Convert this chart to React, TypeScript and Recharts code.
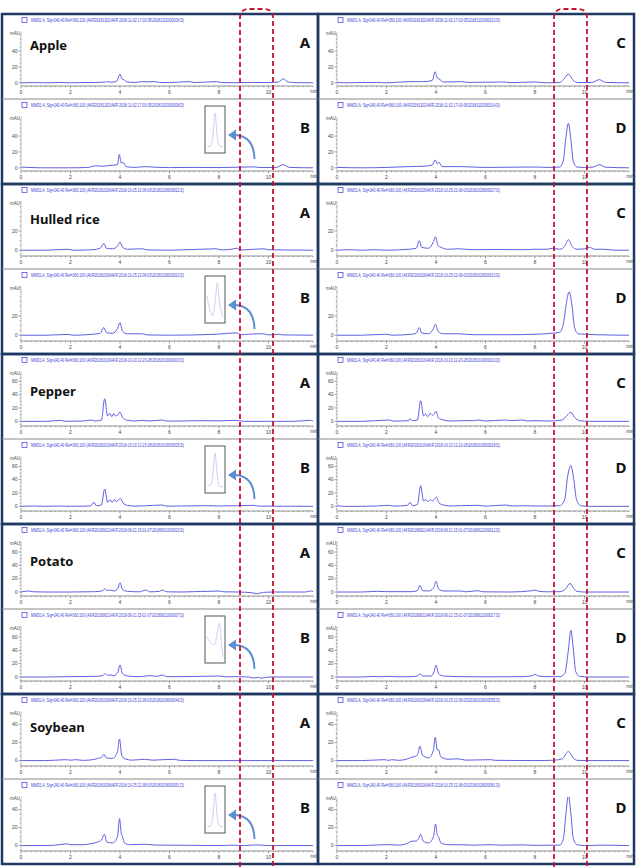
import { LineChart, Line, XAxis, YAxis } from "recharts";

type Pair = [number, number];

// ---- labels ----
const samples = ["Apple", "Hulled rice", "Pepper", "Potato", "Soybean"];
const panelLetters = ["A", "B", "C", "D"];

const runFolders = [
  "AKR20181102\\AKR 2018-11-02 17-03-05\\",
  "AKR20181026\\AKR 2018-10-25 22-38-03\\",
  "AKR20181010\\AKR 2018-10-10 12-23-28\\",
  "AKR20180621\\AKR 2018-06-21 15-01-07\\",
  "AKR20181026\\AKR 2018-10-25 22-38-03\\",
];
const runFiles = [
  ["20181102000006.D", "20181102000008.D", "20181102000013.D", "20181102000014.D"],
  ["20181026000022.D", "20181026000023.D", "20181026000027.D", "20181026000010.D"],
  ["20181010000003.D", "20181010000005.D", "20181010000010.D", "20181010000018.D"],
  ["20180621000003.D", "20180621000007.D", "20180621000012.D", "20180621000017.D"],
  ["20181026000046.D", "20181026000051.D", "20181026000055.D", "20181026000081.D"],
];

// ---- axes ----
const xTicks = [0, 2, 4, 6, 8, 10];
const xMax = 11.8;
const yTickSets = [[0, 20, 40], [0, 20], [0, 20, 40, 60], [0, 20, 40, 60], [0, 20, 40]];
const yDomains: [number, number][] = [[-4, 64], [-6, 50], [-7, 74], [-6, 75], [-6, 54]];

// ---- traces: [retention time (min), signal (mAU)] ----
const appleA: Pair[] = [[0,0],[0.5,0.3],[1,0],[1.5,0.4],[2,0],[2.5,0.3],[3,0.5],[3.4,1],[3.5,1.5],[3.6,0.8],[3.85,1.5],[3.95,8],[4.0,11],[4.08,5],[4.15,4],[4.3,1],[4.6,0.5],[4.9,1.5],[5.1,1.2],[5.4,1.5],[5.6,0.5],[6.0,0.3],[6.8,1.5],[7.0,0.3],[7.9,1.5],[8.1,0.3],[8.8,0.2],[9.4,0.5],[10.0,0.3],[10.4,1],[10.6,5],[10.8,1],[11.2,0.2],[11.8,0]];
const appleB: Pair[] = [[0,1],[0.3,0.5],[1,0],[2,0],[2.7,0.5],[3.0,2.5],[3.3,2],[3.6,3],[3.9,4],[3.97,17],[4.05,6],[4.12,7],[4.25,1.5],[4.6,0.5],[5.0,1.5],[5.4,0.8],[6.0,0.3],[7.0,0.5],[8.0,0.3],[9.4,1.2],[9.7,0.3],[10.3,0.5],[10.6,4],[10.85,0.5],[11.8,0]];
const appleC: Pair[] = [[0,0.5],[0.5,0],[1,0.5],[1.6,0.5],[2.0,0],[2.9,1.5],[3.5,1.5],[3.85,3],[3.97,14],[4.05,6],[4.12,5],[4.3,1],[5.0,1.5],[5.3,0.5],[6.7,1],[7.0,0.3],[8.0,1],[8.5,0],[9.0,0.5],[9.15,4],[9.35,11],[9.55,3],[9.75,0.3],[10.3,0.5],[10.6,4],[10.85,0.5],[11.8,0]];
const appleD: Pair[] = [[0,0.5],[1,0],[2,0.5],[2.9,1.5],[3.5,2],[3.85,3.5],[3.97,10],[4.05,5],[4.12,7],[4.25,1.5],[5.0,1.5],[6.0,0.5],[7.0,0.8],[8.0,1],[8.6,0.5],[9.0,1],[9.15,10],[9.25,38],[9.35,56],[9.45,36],[9.55,8],[9.7,1],[10.0,0.5],[10.35,1],[10.6,4],[10.85,0.8],[11.8,0]];

const riceA: Pair[] = [[0,0],[1,0],[1.9,1],[2.1,0],[2.9,0.5],[3.2,2],[3.35,7],[3.45,2],[3.7,1.5],[3.92,5],[4.0,8.5],[4.1,3],[4.3,1],[4.9,1.5],[5.1,0.3],[6.0,0],[7.9,1.5],[8.1,0.3],[8.5,1],[8.7,2],[8.9,0.3],[9.8,1.5],[10.0,0.5],[10.5,0.3],[11.8,0]];
const riceB: Pair[] = [[0,0],[1,0],[1.9,0.8],[2.1,0],[2.9,1],[3.2,2],[3.35,8],[3.45,2.5],[3.7,2],[3.9,7],[4.0,13],[4.1,4],[4.3,1.5],[4.9,1.5],[5.1,0.3],[6.0,0],[7.9,1],[8.7,2.5],[8.9,0.5],[9.2,1],[9.8,1.5],[10.0,0.3],[10.4,1],[10.6,0.3],[11.8,0]];
const riceC: Pair[] = [[0,0],[0.5,0.5],[1,0],[1.5,0.5],[2.0,0],[2.9,1],[3.2,2],[3.33,10],[3.42,3],[3.7,2],[3.9,9],[3.98,14],[4.08,5],[4.2,3],[4.5,1],[4.9,1.5],[5.5,0.5],[6.5,0.8],[7.5,0.5],[8.0,1],[8.5,1],[8.7,2],[9.0,1],[9.2,4],[9.35,11],[9.5,4],[9.7,1],[10.0,1.5],[10.2,3],[10.4,1],[10.8,1],[11.2,0],[11.8,0]];
const riceD: Pair[] = [[0,0],[1,0],[2,1],[2.2,0],[3.0,1],[3.2,2],[3.33,8],[3.42,2.5],[3.7,1.5],[3.9,7],[3.98,11.5],[4.08,4],[4.3,1.5],[4.9,1.5],[5.5,0.5],[7,0.5],[8.0,1],[8.7,2],[9.0,3],[9.15,12],[9.28,35],[9.38,45],[9.5,30],[9.6,8],[9.75,1.5],[10.0,1],[10.5,0.5],[11.8,0]];

const pepperA: Pair[] = [[0,0],[1,0],[1.6,1.5],[1.8,0],[2.5,0.5],[2.85,2],[3.0,0.5],[3.25,2],[3.38,34],[3.5,8],[3.58,12],[3.67,7],[3.75,12],[3.82,8],[3.9,9],[4.0,14],[4.1,6],[4.25,2],[4.6,0.5],[4.9,1.5],[5.2,0.5],[5.7,2],[5.9,0.3],[6.5,0.5],[7.2,1],[8.0,0.8],[8.7,1.5],[9.0,0],[10.0,0],[11.0,0],[11.7,1.5],[11.8,0.5]];
const pepperB: Pair[] = [[0,0],[0.5,0.5],[1,0],[1.5,0.5],[2,0],[2.8,0.5],[2.95,6],[3.05,1],[3.25,2],[3.38,26],[3.5,6],[3.6,10],[3.68,6],[3.78,10],[3.85,7],[3.95,10],[4.02,12],[4.12,5],[4.3,1.5],[4.6,0.3],[5.0,0.8],[5.7,2],[5.9,0.3],[6.5,0.5],[7.5,1],[8.0,0.5],[8.7,1],[9.4,1.5],[9.6,0.3],[11.8,0]];
const pepperC: Pair[] = [[0,0],[1,0],[2.1,2],[2.3,0.3],[2.9,1],[2.95,4],[3.05,1],[3.25,2],[3.38,31],[3.5,8],[3.58,11],[3.66,7],[3.78,12],[3.86,9],[3.95,12],[4.0,15],[4.1,5],[4.3,2],[4.6,0.5],[5.0,1],[5.5,1],[5.7,2],[6.0,0.5],[6.8,2],[7.0,1],[7.5,2],[7.7,0.5],[8.0,1],[8.6,0.5],[9.1,2],[9.3,9],[9.45,13.5],[9.6,6],[9.8,1],[10.2,0],[11.8,0]];
const pepperD: Pair[] = [[0,1],[0.3,0],[1,0],[1.6,0.5],[2.1,1.5],[2.3,0.3],[2.85,1.5],[2.95,6],[3.05,1],[3.25,3],[3.38,31],[3.5,8],[3.6,10],[3.68,7],[3.78,10],[3.86,8],[3.95,11],[4.02,14],[4.12,5],[4.3,2],[4.6,0.5],[5.0,1],[5.7,1.5],[6.0,0.3],[6.8,2],[7.1,0.5],[7.5,1],[8.0,0.5],[8.6,0.5],[9.0,1],[9.2,10],[9.32,45],[9.45,61],[9.57,40],[9.68,10],[9.85,1],[10.2,0],[11.8,0]];

const potatoA: Pair[] = [[0,0],[0.3,1.5],[0.5,0.3],[1,0],[2,0],[3.0,0.5],[3.3,2],[3.38,5],[3.48,2],[3.6,3],[3.75,1.5],[3.92,6],[4.0,14],[4.1,4],[4.3,1],[4.8,0.3],[5.05,3],[5.2,0.3],[5.6,1],[5.7,3],[5.9,0.3],[6.5,0],[8.0,1.5],[8.2,0.3],[8.8,0],[9.3,-1],[9.55,-2.5],[9.8,-0.5],[10.2,0],[11.5,0],[11.7,1.5],[11.8,0.5]];
const potatoB: Pair[] = [[0,0],[1,0],[2,0.5],[3.0,1],[3.3,2],[3.4,5],[3.5,2.5],[3.6,3],[3.75,2],[3.92,8],[4.0,18],[4.1,5],[4.3,1.5],[4.8,0.5],[5.2,2],[5.5,1],[5.7,3],[5.9,0.5],[6.5,0.5],[8.0,1.5],[8.3,0.3],[8.8,0.5],[9.2,0],[9.4,-1.5],[9.6,-0.5],[9.7,-2],[10.0,0],[11.8,0]];
const potatoC: Pair[] = [[0,0],[1,0],[1.6,1],[2.0,0.5],[2.5,0.5],[3.0,0.5],[3.25,2],[3.35,10],[3.45,2],[3.7,1.5],[3.9,6],[4.0,16],[4.1,5],[4.3,1.5],[5.0,1.5],[5.2,0.3],[5.7,2],[5.9,0.3],[7.0,0],[7.9,2],[8.0,3],[8.15,1],[8.5,0.3],[9.0,0.5],[9.25,5],[9.42,13],[9.55,6],[9.7,1],[10.0,0],[11.8,0]];
const potatoD: Pair[] = [[0,0],[1,0],[1.5,0.8],[1.8,0.3],[2.0,1],[2.5,0.3],[3.0,0.5],[3.25,1.5],[3.35,5],[3.45,1.5],[3.8,1.5],[3.92,8],[4.0,18],[4.1,5],[4.3,1.5],[5.0,0.5],[6.0,0.3],[7.5,0.5],[7.9,2],[8.0,4],[8.15,1.5],[8.5,0.5],[9.0,0.5],[9.2,5],[9.35,40],[9.45,70],[9.55,42],[9.65,8],[9.8,1],[10.2,0],[11.8,0]];

const soyA: Pair[] = [[0,0],[1,0],[1.8,1],[2.0,0.5],[2.2,1],[2.5,0.3],[2.9,1],[3.1,2.5],[3.25,3.5],[3.35,7],[3.45,3],[3.7,2.5],[3.9,10],[3.98,24],[4.07,6],[4.2,2],[4.5,0.5],[5.0,1.5],[5.3,0.5],[6.2,1.5],[6.4,0.3],[7.0,0],[11.8,0]];
const soyB: Pair[] = [[0,0],[1,0],[1.7,1.5],[1.85,2],[2.0,1],[2.5,1],[2.8,2],[3.1,4],[3.25,6],[3.37,12.5],[3.47,4],[3.7,3],[3.9,10],[3.98,30],[4.05,14],[4.1,10],[4.18,3],[4.4,1],[5.0,1.5],[5.5,0.5],[6.0,0.5],[7.0,0.3],[8.0,0],[8.5,0.5],[9.0,0],[9.5,0.8],[10.0,0],[11.8,0]];
const soyC: Pair[] = [[0,0],[1,0],[1.9,1],[2.1,0.3],[2.2,1],[2.5,0.3],[2.8,1.5],[3.05,4],[3.2,5],[3.27,8],[3.35,16],[3.45,6],[3.7,3],[3.9,12],[3.97,26],[4.05,12],[4.1,12],[4.2,4],[4.5,1.5],[4.9,2],[5.2,0.5],[6.2,1],[6.4,0.3],[8.0,0],[8.8,0.5],[9.1,2],[9.35,10],[9.55,3],[9.7,0.3],[10.1,0],[11.8,0]];
const soyD: Pair[] = [[0,0],[1,0],[1.9,1],[2.2,1],[2.5,0.5],[2.8,2],[3.05,5],[3.2,5],[3.3,8],[3.38,12.5],[3.48,5],[3.7,3],[3.9,10],[3.98,24],[4.05,12],[4.1,10],[4.2,3],[4.5,1],[5.0,1],[5.5,0.5],[6.2,1],[6.6,0.5],[7.5,0.8],[8.0,0.3],[9.0,0.5],[9.15,8],[9.25,35],[9.35,56],[9.45,36],[9.55,8],[9.7,1],[10.0,0],[10.7,0.5],[11.8,0]];

// zoomed views of the B trace around 9.4 min
const appleZoom: Pair[] = [[9.0,0],[9.2,0.2],[9.3,1.5],[9.4,4],[9.5,1.5],[9.6,0.2],[9.8,0]];
const riceZoom: Pair[] = [[9.0,3],[9.15,1.8],[9.25,1.5],[9.35,2.5],[9.45,4],[9.55,2.5],[9.7,1.4]];
const pepperZoom: Pair[] = [[9.0,0.5],[9.2,0.6],[9.3,1.5],[9.4,3],[9.5,1.5],[9.6,0.5],[9.8,0.4]];
const potatoZoom: Pair[] = [[9.0,2],[9.15,1],[9.25,0.8],[9.35,2.5],[9.42,4],[9.5,1],[9.55,-1]];
const soyZoom: Pair[] = [[9.0,0],[9.2,0.2],[9.3,1.5],[9.4,4],[9.5,1.5],[9.6,0.2],[9.8,0]];

const traces = [
  [appleA, appleB, appleC, appleD],
  [riceA, riceB, riceC, riceD],
  [pepperA, pepperB, pepperC, pepperD],
  [potatoA, potatoB, potatoC, potatoD],
  [soyA, soyB, soyC, soyD],
];
const zooms = [appleZoom, riceZoom, pepperZoom, potatoZoom, soyZoom];

// ---- layout ----
const W = 637;
const H = 867;
const colLefts = [2, 318];
const colW = 316;
const groupTops = [14, 184, 354, 524, 694];
const panelH = 85;
const nameOffsets = [31, 35, 37, 37, 33];
const navy = "#1f3864";
const traceColor = "#5f5fe3";
const headerColor = "#3b3bd6";
const arrowColor = "#5b8fd0";

const toRows = (pairs: Pair[]) => pairs.map(([t, v]) => ({ t, v }));
const xMinor = Array.from({ length: 60 }, (_, i) => Math.round(i * 2) / 10);

const isIn = (list: number[], v: number) => list.some((t) => Math.abs(t - v) < 1e-6);

function XTick(props: any) {
  const { x, y, payload } = props;
  const major = isIn(xTicks, payload.value);
  return (
    <g>
      <line x1={x} x2={x} y1={y} y2={y + (major ? 2.5 : 1.2)} stroke="#777" strokeWidth={0.7} />
      {major && (
        <text x={x} y={y + 8} textAnchor="middle" fontSize={5} fill="#444" fontFamily="Arial">
          {payload.value}
        </text>
      )}
    </g>
  );
}

function YTick(props: any) {
  const { x, y, payload, majors } = props;
  const major = isIn(majors, payload.value);
  return (
    <g>
      <line x1={x - (major ? 2.5 : 1.2)} x2={x} y1={y} y2={y} stroke="#777" strokeWidth={0.7} />
      {major && (
        <text x={x - 3.5} y={y + 1.8} textAnchor="end" fontSize={5} fill="#444" fontFamily="Arial">
          {payload.value}
        </text>
      )}
    </g>
  );
}

function Panel({ left, top, pairs, g }: { left: number; top: number; pairs: Pair[]; g: number }) {
  const [lo, hi] = yDomains[g];
  const majors = yTickSets[g];
  const yMinor: number[] = [];
  for (let v = Math.ceil(lo / 5) * 5; v <= hi; v += 5) yMinor.push(v);
  return (
    <div style={{ position: "absolute", left, top, width: colW, height: panelH }}>
      <LineChart width={colW} height={panelH} data={toRows(pairs)} margin={{ top: 18, right: 5, bottom: 0, left: 0 }}>
        <XAxis
          dataKey="t"
          type="number"
          domain={[0, xMax]}
          ticks={xMinor}
          interval={0}
          height={13}
          tickSize={0}
          tickMargin={0}
          axisLine={{ stroke: "#777", strokeWidth: 0.8 }}
          tickLine={false}
          tick={(p: any) => <XTick {...p} />}
          allowDataOverflow
        />
        <YAxis
          type="number"
          domain={[lo, hi]}
          ticks={yMinor}
          interval={0}
          width={19}
          tickSize={0}
          tickMargin={0}
          axisLine={{ stroke: "#999", strokeWidth: 0.6 }}
          tickLine={false}
          tick={(p: any) => <YTick {...p} majors={majors} />}
          allowDataOverflow
        />
        <Line dataKey="v" type="monotone" stroke={traceColor} strokeWidth={1} dot={false} isAnimationActive={false} />
      </LineChart>
    </div>
  );
}

function ZoomInset({ top, pairs }: { top: number; pairs: Pair[] }) {
  return (
    <div style={{ position: "absolute", left: 206, top, width: 18, height: 44 }}>
      <LineChart width={18} height={44} data={toRows(pairs)} margin={{ top: 6, right: 1, bottom: 4, left: 1 }}>
        <XAxis dataKey="t" type="number" domain={["dataMin", "dataMax"]} hide />
        <YAxis type="number" domain={["dataMin", "dataMax"]} hide />
        <Line dataKey="v" type="monotone" stroke="#c4c4ee" strokeWidth={0.8} dot={false} isAnimationActive={false} />
      </LineChart>
    </div>
  );
}

function Overlay() {
  const txt = { fontFamily: "Arial, sans-serif" };
  return (
    <svg width={W} height={H} style={{ position: "absolute", left: 0, top: 0, pointerEvents: "none" }}>
      {groupTops.map((top, g) => (
        <g key={g}>
          {colLefts.map((cx, c) => (
            <g key={c}>
              <rect x={cx} y={top} width={colW} height={panelH * 2} fill="none" stroke={navy} strokeWidth={2.5} />
              <line x1={cx} x2={cx + colW} y1={top + panelH} y2={top + panelH} stroke="#8a8a8a" strokeWidth={1.2} />
              {[0, 1].map((r) => {
                const p = c * 2 + r;
                const py = top + r * panelH;
                return (
                  <g key={r}>
                    <rect x={cx + 20} y={py + 3.5} width={5} height={5} fill="none" stroke={headerColor} strokeWidth={0.7} />
                    <text x={cx + 29} y={py + 8} fontSize={4.6} fill={headerColor} textLength={153} lengthAdjust="spacingAndGlyphs" {...txt}>
                      {`MWD1 A, Sig=240,40 Ref=360,100 (${runFolders[g]}${runFiles[g][p]})`}
                    </text>
                    <text x={cx + 13} y={py + 21} fontSize={4.5} fill="#444" textAnchor="middle" {...txt}>mAU</text>
                    <text x={cx + 312} y={py + 79} fontSize={4.5} fill="#444" textAnchor="middle" {...txt}>min</text>
                    <text x={cx + 303} y={py + 34} fontSize={15} fontWeight={700} textAnchor="middle" fill="#111" fontFamily="'Noto Sans', sans-serif">
                      {panelLetters[p]}
                    </text>
                  </g>
                );
              })}
            </g>
          ))}
          <text x={30} y={top + nameOffsets[g] + 5} fontSize={13} fontWeight={700} fill="#111" fontFamily="'Noto Sans', sans-serif">
            {samples[g]}
          </text>
          {/* zoom box and arrow in panel B */}
          <rect x={205} y={top + panelH + 7} width={20} height={47} fill="none" stroke="#555" strokeWidth={1} />
          <path d={`M 254.5 ${top + 145} Q 254 ${top + 122} 235 ${top + 121}`} fill="none" stroke={arrowColor} strokeWidth={2} />
          <polygon points={`228,${top + 121} 236,${top + 115.5} 236,${top + 126.5}`} fill={arrowColor} />
        </g>
      ))}
      {[240, 554].map((x0) => (
        <path
          key={x0}
          d={`M ${x0} ${H} V 18 Q ${x0} 9 ${x0 + 9} 9 H ${x0 + 24} Q ${x0 + 33} 9 ${x0 + 33} 18 V ${H}`}
          fill="none"
          stroke="#c8102e"
          strokeWidth={1.8}
          strokeDasharray="5 3"
        />
      ))}
    </svg>
  );
}

export default function App() {
  return (
    <div style={{ position: "absolute", left: 0, top: 0, width: W, height: H, background: "#fff", overflow: "hidden" }}>
      {groupTops.map((top, g) =>
        traces[g].map((pairs, p) => (
          <Panel key={`${g}-${p}`} g={g} pairs={pairs} left={colLefts[p < 2 ? 0 : 1]} top={top + (p % 2) * panelH} />
        ))
      )}
      {groupTops.map((top, g) => (
        <ZoomInset key={g} top={top + panelH + 8} pairs={zooms[g]} />
      ))}
      <Overlay />
    </div>
  );
}
